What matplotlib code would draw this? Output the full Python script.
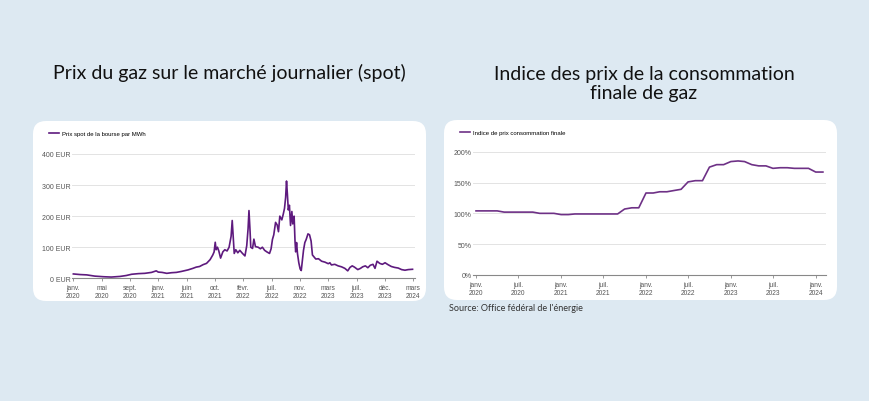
import pandas as pd
import numpy as np
import matplotlib.pyplot as plt
from matplotlib.patches import FancyBboxPatch

# Donnees - prix spot (EUR/MWh)
spot_dates = [
    '2020-01-01', '2020-02-01', '2020-03-01', '2020-04-06', '2020-05-16', '2020-06-19',
    '2020-07-28', '2020-08-25', '2020-09-18', '2020-10-18', '2020-11-16', '2020-12-16',
    '2021-01-06', '2021-01-15', '2021-02-01', '2021-02-22', '2021-03-16', '2021-04-06',
    '2021-04-28', '2021-05-28', '2021-06-19', '2021-07-04', '2021-07-19', '2021-08-04',
    '2021-08-19', '2021-09-04', '2021-09-16', '2021-09-22', '2021-09-27', '2021-10-01',
    '2021-10-07', '2021-10-13', '2021-10-21', '2021-10-31', '2021-11-09', '2021-11-19',
    '2021-11-28', '2021-12-07', '2021-12-12', '2021-12-16', '2021-12-21', '2021-12-28',
    '2022-01-06', '2022-01-15', '2022-01-27', '2022-02-07', '2022-02-15', '2022-02-21',
    '2022-02-25', '2022-03-02', '2022-03-05', '2022-03-13', '2022-03-19', '2022-03-26',
    '2022-04-07', '2022-04-17', '2022-04-26', '2022-05-06', '2022-05-16', '2022-05-28',
    '2022-06-04', '2022-06-10', '2022-06-16', '2022-06-24', '2022-07-01', '2022-07-07',
    '2022-07-13', '2022-07-22', '2022-07-28', '2022-08-03', '2022-08-08', '2022-08-12',
    '2022-08-16', '2022-08-20', '2022-08-25', '2022-08-30', '2022-09-05', '2022-09-09',
    '2022-09-15', '2022-09-19', '2022-09-22', '2022-09-26', '2022-09-30', '2022-10-06',
    '2022-10-12', '2022-10-17', '2022-10-21', '2022-10-27', '2022-11-02', '2022-11-08',
    '2022-11-16', '2022-11-23', '2022-11-30', '2022-12-06', '2022-12-12', '2022-12-21',
    '2023-01-02', '2023-01-16', '2023-01-31', '2023-02-15', '2023-02-22', '2023-03-01',
    '2023-03-16', '2023-03-31', '2023-04-15', '2023-04-30', '2023-05-13', '2023-05-23',
    '2023-06-02', '2023-06-12', '2023-06-27', '2023-07-09', '2023-07-19', '2023-07-31',
    '2023-08-11', '2023-08-22', '2023-09-03', '2023-09-12', '2023-09-21', '2023-10-03',
    '2023-10-15', '2023-10-27', '2023-11-09', '2023-11-24', '2023-12-09', '2023-12-25',
    '2024-01-09', '2024-01-24', '2024-02-08', '2024-02-27',
]
spot_prix = [
    14, 12, 11, 7, 5, 4,
    6, 9, 13, 15, 16, 19,
    24, 20, 19, 16, 18, 19,
    22, 27, 32, 36, 38, 44,
    48, 60, 75, 85, 116, 92,
    100, 88, 65, 85, 92, 88,
    100, 135, 186, 140, 80, 92,
    82, 90, 80, 72, 105, 160,
    218, 150, 100, 96, 126, 102,
    100, 95, 100, 90, 85, 80,
    95, 125, 140, 180, 172, 150,
    200, 188, 205, 225, 260, 313,
    270, 220, 235, 170, 215, 175,
    200, 120, 85, 115, 80, 50,
    30, 25, 50, 90, 115, 125,
    143, 140, 120, 75, 70, 62,
    63, 55, 52, 47, 50, 43,
    45, 40, 37, 32, 24, 35,
    40, 36, 28, 32, 37, 40,
    34, 42, 45, 32, 55, 48,
    45, 50, 44, 38, 35, 33,
    28, 26, 28, 29,
]

# Indice des prix consommation finale (%), mensuel janv. 2020 - fevr. 2024
indice_mois = pd.date_range('2020-01-01', '2024-02-01', freq='MS')
indice_val = [
    104, 104, 104, 104, 102, 102, 102, 102, 102, 100, 100, 100,
    98, 98, 99, 99, 99, 99, 99, 99, 99, 107, 109, 109,
    133, 133, 135, 135, 137, 139, 151, 153, 153, 175, 179, 179,
    184, 185, 184, 179, 177, 177, 173, 174, 174, 173, 173, 173,
    167, 167,
]

spot_ticks = ['janv.\n2020', 'mai\n2020', 'sept.\n2020', 'janv.\n2021', 'juin\n2021',
              'oct.\n2021', 'févr.\n2022', 'juil.\n2022', 'nov.\n2022', 'mars\n2023',
              'juil.\n2023', 'déc.\n2023', 'mars\n2024']
indice_ticks = ['janv.\n2020', 'juil.\n2020', 'janv.\n2021', 'juil.\n2021', 'janv.\n2022',
                'juil.\n2022', 'janv.\n2023', 'juil.\n2023', 'janv.\n2024']

bg = '#dde9f2'
gris = '#555555'
W, H = 870, 402

fig = plt.figure(figsize=(8.7, 4.02), dpi=100, facecolor=bg)
plt.rcParams['font.family'] = ['Lato', 'DejaVu Sans']


def px(x0, y0, x1, y1):
    # rectangle en pixels (haut-gauche) -> fraction de figure
    return [x0 / W, 1 - y1 / H, (x1 - x0) / W, (y1 - y0) / H]


# Cartes blanches (coordonnees en pouces, rayon ~12 px)
for (x0, y0, x1, y1) in [(33, 122, 426, 302), (444, 121, 837, 301)]:
    fig.patches.append(FancyBboxPatch((x0 / 100, (H - y1) / 100), (x1 - x0) / 100, (y1 - y0) / 100,
                                      boxstyle='round,pad=0,rounding_size=0.13',
                                      transform=fig.dpi_scale_trans, facecolor='white',
                                      edgecolor='none', zorder=-1))

# Titres
fig.text(229 / W, 1 - 73 / H, 'Prix du gaz sur le marché journalier (spot)',
         ha='center', va='center', fontsize=14, color='#111111')
fig.text(644 / W, 1 - 84 / H, 'Indice des prix de la consommation\nfinale de gaz',
         ha='center', va='center', fontsize=14, color='#111111', linespacing=1.2)
fig.text(449 / W, 1 - 309 / H, "Source: Office fédéral de l'énergie",
         ha='left', va='center', fontsize=6.5, color='#333333')

tick_font = ['Liberation Sans', 'DejaVu Sans']


def style_axe(ax):
    for s in ['top', 'right', 'left']:
        ax.spines[s].set_visible(False)
    ax.spines['bottom'].set_color('#888888')
    ax.spines['bottom'].set_linewidth(0.8)
    ax.grid(axis='y', color='#e3e3e3', linewidth=0.7)
    ax.set_axisbelow(True)
    ax.tick_params(axis='y', length=0, labelsize=5, labelcolor=gris, pad=1)
    ax.tick_params(axis='x', length=2.5, width=0.6, color='#888888',
                   labelsize=4.8, labelcolor=gris, pad=1.5)
    ax.patch.set_alpha(0)
    for t in ax.get_xticklabels():
        t.set_linespacing(1.25)
        t.set_family(tick_font)
    for t in ax.get_yticklabels():
        t.set_family(tick_font)


# Graphique gauche
ax1 = fig.add_axes(px(72, 155, 415, 279.3))
ax1.plot(pd.to_datetime(spot_dates), spot_prix, color='#5e1a7e', linewidth=1.2,
         label='Prix spot de la bourse par MWh')
ax1.set_ylim(0, 400)
ax1.set_yticks([0, 100, 200, 300, 400])
ax1.set_yticklabels([f'{v} EUR' for v in [0, 100, 200, 300, 400]])
d0, d1 = pd.Timestamp('2020-01-01'), pd.Timestamp('2024-03-01')
ax1.set_xlim(d0 - pd.Timedelta(days=6), d1 + pd.Timedelta(days=8))
pos = pd.to_datetime(np.linspace(d0.value, d1.value, len(spot_ticks)))
ax1.set_xticks(pos)
ax1.set_xticklabels(spot_ticks)
style_axe(ax1)
leg = fig.legend(handles=[ax1.lines[0]], loc='center left', bbox_to_anchor=(49 / W, 1 - 134 / H),
                 frameon=False, fontsize=4.3, handlelength=1.7, handletextpad=0.4,
                 borderaxespad=0, borderpad=0, prop={'family': tick_font, 'size': 4.3})

# Graphique droite
ax2 = fig.add_axes(px(473, 152.7, 825.7, 276))
ax2.plot(indice_mois, indice_val, color='#6e3186', linewidth=1.2,
         label='Indice de prix consommation finale')
ax2.set_ylim(0, 200)
ax2.set_yticks([0, 50, 100, 150, 200])
ax2.set_yticklabels([f'{v}%' for v in [0, 50, 100, 150, 200]])
ax2.set_xlim(pd.Timestamp('2019-12-19'), pd.Timestamp('2024-02-13'))
ax2.set_xticks(pd.date_range('2020-01-01', '2024-01-01', freq='6MS'))
ax2.set_xticklabels(indice_ticks)
style_axe(ax2)
fig.legend(handles=[ax2.lines[0]], loc='center left', bbox_to_anchor=(460 / W, 1 - 133 / H),
           frameon=False, handlelength=1.7, handletextpad=0.4,
           borderaxespad=0, borderpad=0, prop={'family': tick_font, 'size': 4.3})

fig.savefig('out.png', dpi=100, facecolor=bg)
